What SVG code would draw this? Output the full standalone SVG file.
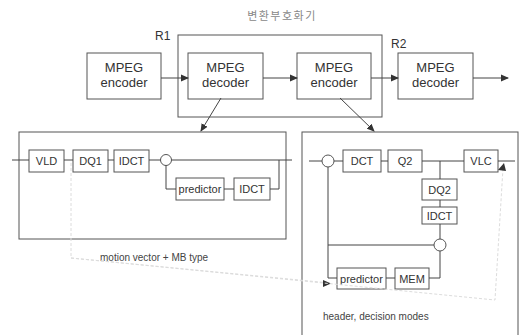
<svg xmlns="http://www.w3.org/2000/svg" width="527" height="335" viewBox="0 0 527 335">
<style>
.bx{fill:none;stroke:#555;stroke-width:1}
.nb{fill:#fff;stroke:#555;stroke-width:1}
.ln{fill:none;stroke:#444;stroke-width:1}
.dt{fill:none;stroke:#dcdcdc;stroke-width:1;stroke-dasharray:3 2}
.big{font-family:"Liberation Sans",Arial,sans-serif;font-size:13px;fill:#333;text-anchor:middle}
.sm{font-family:"Liberation Sans",Arial,sans-serif;font-size:11px;fill:#333;text-anchor:middle}
.lb{font-family:"Liberation Sans",Arial,sans-serif;font-size:12px;fill:#333}
.nt{font-family:"Liberation Sans",Arial,sans-serif;font-size:10px;fill:#444}
</style>
<defs>
<marker id="ah" markerWidth="8" markerHeight="8" refX="7" refY="4" orient="auto" markerUnits="userSpaceOnUse">
<path d="M0,0.5 L8,4 L0,7.5 Z" fill="#333"/>
</marker>
</defs>
<rect fill="#fff" width="527" height="335"/>
<text x="282" y="20" style="font-family:'Noto Sans CJK KR',sans-serif;font-size:11px;fill:#888;text-anchor:middle;letter-spacing:1.5px">변환부호화기</text>
<g id="R1box"><rect class="bx" x="178" y="35" width="204" height="82"/></g>
<text class="lb" x="155" y="40">R1</text>
<text class="lb" x="391" y="48">R2</text>
<g id="enc1"><rect class="nb" x="87" y="53" width="74" height="46"/><text class="big" x="124" y="72">MPEG</text><text class="big" x="124" y="87">encoder</text></g>
<g id="dec1"><rect class="nb" x="188" y="53" width="75" height="46"/><text class="big" x="225.5" y="72">MPEG</text><text class="big" x="225.5" y="87">decoder</text></g>
<g id="enc2"><rect class="nb" x="297" y="53" width="74" height="46"/><text class="big" x="334" y="72">MPEG</text><text class="big" x="334" y="87">encoder</text></g>
<g id="dec2"><rect class="nb" x="398" y="53" width="75" height="46"/><text class="big" x="435.5" y="72">MPEG</text><text class="big" x="435.5" y="87">decoder</text></g>
<g id="leftbox"><rect class="bx" x="19" y="132" width="267" height="107"/></g>
<g id="rightbox"><rect class="bx" x="302" y="132" width="216" height="210"/></g>
<g id="VLD"><rect class="nb" x="29" y="150" width="35" height="22"/><text class="sm" x="46.5" y="165">VLD</text></g>
<g id="DQ1"><rect class="nb" x="73" y="150" width="35" height="22"/><text class="sm" x="90.5" y="165">DQ1</text></g>
<g id="IDCT1"><rect class="nb" x="114" y="150" width="35" height="22"/><text class="sm" x="131.5" y="165">IDCT</text></g>
<g id="predictor1"><rect class="nb" x="176" y="178" width="48" height="22"/><text class="sm" x="200" y="193">predictor</text></g>
<g id="IDCT2"><rect class="nb" x="234" y="178" width="36" height="22"/><text class="sm" x="252" y="193">IDCT</text></g>
<g id="sum1"><circle class="nb" cx="166" cy="160" r="5.5"/></g>
<g id="sum2"><circle class="nb" cx="328" cy="161" r="6"/></g>
<g id="DCT"><rect class="nb" x="343" y="150" width="38" height="22"/><text class="sm" x="362" y="165">DCT</text></g>
<g id="Q2"><rect class="nb" x="388" y="150" width="34" height="22"/><text class="sm" x="405" y="165">Q2</text></g>
<g id="VLC"><rect class="nb" x="464" y="150" width="34" height="22"/><text class="sm" x="481" y="165">VLC</text></g>
<g id="DQ2"><rect class="nb" x="422" y="179" width="35" height="21"/><text class="sm" x="439.5" y="194">DQ2</text></g>
<g id="IDCT3"><rect class="nb" x="422" y="207" width="35" height="17"/><text class="sm" x="439.5" y="220">IDCT</text></g>
<g id="sum3"><circle class="nb" cx="440" cy="245" r="6"/></g>
<g id="predictor2"><rect class="nb" x="337" y="268" width="49" height="21"/><text class="sm" x="361.5" y="283">predictor</text></g>
<g id="MEM"><rect class="nb" x="395" y="268" width="34" height="21"/><text class="sm" x="412" y="283">MEM</text></g>
<text class="nt" x="100" y="261">motion vector + MB type</text>
<text class="nt" x="323" y="320">header, decision modes</text>
<g id="connectors">
<line class="ln" x1="161" y1="78" x2="188" y2="78" marker-end="url(#ah)"/>
<line class="ln" x1="263" y1="78" x2="297" y2="78" marker-end="url(#ah)"/>
<line class="ln" x1="371" y1="78" x2="398" y2="78" marker-end="url(#ah)"/>
<line class="ln" x1="473" y1="78" x2="508" y2="78" marker-end="url(#ah)"/>
<line class="ln" x1="221" y1="98" x2="201" y2="131" marker-end="url(#ah)"/>
<line class="ln" x1="340" y1="98" x2="374" y2="131" marker-end="url(#ah)"/>
<line class="ln" x1="12" y1="160" x2="29" y2="160"/>
<line class="ln" x1="64" y1="160" x2="73" y2="160"/>
<line class="ln" x1="108" y1="160" x2="114" y2="160"/>
<line class="ln" x1="149" y1="160" x2="160.5" y2="160"/>
<line class="ln" x1="171.5" y1="160" x2="292" y2="160"/>
<polyline class="ln" points="166,165.5 166,189 176,189"/>
<line class="ln" x1="224" y1="189" x2="234" y2="189"/>
<polyline class="ln" points="270,189 279,189 279,160"/>
<line class="ln" x1="309" y1="161" x2="322" y2="161"/>
<line class="ln" x1="334" y1="161" x2="343" y2="161"/>
<line class="ln" x1="381" y1="161" x2="388" y2="161"/>
<line class="ln" x1="422" y1="161" x2="464" y2="161"/>
<line class="ln" x1="498" y1="161" x2="515" y2="161"/>
<line class="ln" x1="440" y1="161" x2="440" y2="179"/>
<line class="ln" x1="440" y1="200" x2="440" y2="207"/>
<line class="ln" x1="440" y1="224" x2="440" y2="239"/>
<line class="ln" x1="434" y1="245" x2="328" y2="245"/>
<polyline class="ln" points="328,167 328,278 337,278"/>
<line class="ln" x1="386" y1="278" x2="395" y2="278"/>
<polyline class="ln" points="429,278 440,278 440,251"/>
<polyline class="dt" points="71,163 71,258 330,283"/>
<path d="M323,280 L331,283.5 L323,287 Z" fill="#333"/>
<polyline class="dt" points="71,258 495,300 503,168"/>
<path d="M498,170 L504,163 L506,171 Z" fill="#333"/>
</g>
</svg>
